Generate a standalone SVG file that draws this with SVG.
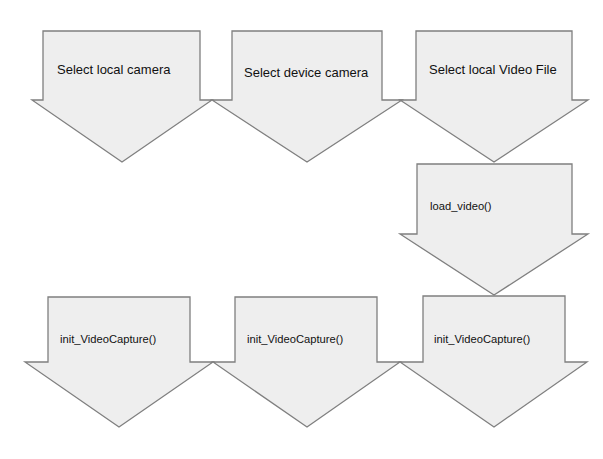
<svg xmlns="http://www.w3.org/2000/svg" width="603" height="459" viewBox="0 0 603 459">
<style>
.arrow{fill:#eeeeee;stroke:#7f7f7f;stroke-width:1.3;stroke-linejoin:miter}
.lbl{font-family:"Liberation Sans",Arial,sans-serif;fill:#111111}
.big{font-size:13px}
.small{font-size:11.2px}
</style>
<rect width="603" height="459" fill="#ffffff"/>
<g id="connectors"></g>
<g id="n1">
<polygon class="arrow" points="43,31 200,31 200,100 212,100 122,162 32,100 43,100"/>
<text class="lbl big" x="57" y="74">Select local camera</text>
</g>
<g id="n2">
<polygon class="arrow" points="232,31 382,31 382,100 402,100 307,162 212,100 232,100"/>
<text class="lbl big" x="244" y="77">Select device camera</text>
</g>
<g id="n3">
<polygon class="arrow" points="416,31 572,31 572,100 588,100 494,162 400,100 416,100"/>
<text class="lbl big" x="429" y="74">Select local Video File</text>
</g>
<g id="n4">
<polygon class="arrow" points="417,164 572,164 572,234 588,234 494,295 400,234 417,234"/>
<text class="lbl small" x="430" y="210">load_video()</text>
</g>
<g id="n5">
<polygon class="arrow" points="48,297 190,297 190,362 213,362 119,427 25,362 48,362"/>
<text class="lbl small" x="60" y="343">init_VideoCapture()</text>
</g>
<g id="n6">
<polygon class="arrow" points="235,297 377,297 377,362 400,362 307,427 213,362 235,362"/>
<text class="lbl small" x="247" y="343">init_VideoCapture()</text>
</g>
<g id="n7">
<polygon class="arrow" points="423,296 565,296 565,362 587,362 494,427 400,362 423,362"/>
<text class="lbl small" x="434" y="343">init_VideoCapture()</text>
</g>
</svg>
